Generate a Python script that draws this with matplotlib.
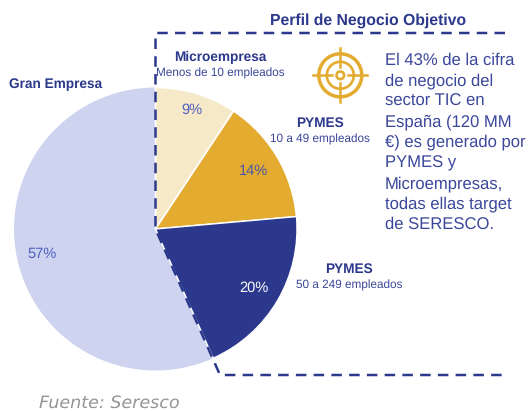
import matplotlib
matplotlib.use("Agg")
import matplotlib.pyplot as plt
from matplotlib.patches import Circle

labels = ["Microempresa", "PYMES 10-49", "PYMES 50-249", "Gran Empresa"]
values = [9.3, 14.3, 19.7, 56.7]
pct_labels = ["9%", "14%", "20%", "57%"]
colors = ["#f6e9c8", "#e3ab2f", "#2b388c", "#ced3ef"]
pct_colors = ["#5060c0", "#4a56a8", "#ffffff", "#5060c0"]
body_lines = [
    "El 43% de la cifra",
    "de negocio del",
    "sector TIC en",
    "España (120 MM",
    "€) es generado por",
    "PYMES y",
    "Microempresas,",
    "todas ellas target",
    "de SERESCO.",
]

NAVY = "#2b388c"
SOFT_NAVY = "#3a479b"
GOLD = "#e3ab2f"
W, H = 529, 411

plt.rcParams["font.family"] = ["Liberation Sans", "DejaVu Sans"]
plt.rcParams["text.hinting"] = "none"

fig = plt.figure(figsize=(W / 100, H / 100), dpi=100)
ax = fig.add_axes([0, 0, 1, 1])


# picture coordinates have y going down
def py(y):
    return H - y


wedges, _ = ax.pie(
    values,
    colors=colors,
    startangle=90,
    counterclock=False,
    center=(155.5, py(229)),
    radius=141.5,
    wedgeprops={"linewidth": 0},
)
# white gap only between the coloured slices
wedges[0].set(edgecolor="white", linewidth=1.2)
wedges[1].set(edgecolor="white", linewidth=1.2)
wedges[2].set(edgecolor="white", linewidth=1.0)
wedges[3].set(zorder=0)

ax.set_xlim(0, W)
ax.set_ylim(0, H)
ax.set_aspect("equal")
ax.axis("off")

# dashed frame
frame_x = [505, 155.5, 155.5, 220, 505]
frame_y = [33, 33, 229, 375, 375]
ax.plot(frame_x, [py(y) for y in frame_y], color=NAVY, lw=1.8, dashes=(4.2, 2.9), zorder=5)

# percentages
pct_pos = [(192, 110), (254, 171), (254, 288), (42, 254)]
for txt, col, (x, y) in zip(pct_labels, pct_colors, pct_pos):
    ax.text(x, py(y), txt, color=col, fontsize=10.5, ha="center", va="center", zorder=6)

# slice labels
ax.text(55.5, py(84), "Gran Empresa", color=NAVY, fontsize=9.8, weight="bold", ha="center", va="center")
ax.text(220, py(57), "Microempresa", color=NAVY, fontsize=9.8, weight="bold", ha="center", va="center")
ax.text(220, py(73), "Menos de 10 empleados", color=SOFT_NAVY, fontsize=8.5, ha="center", va="center")
ax.text(320, py(123), "PYMES", color=NAVY, fontsize=9.8, weight="bold", ha="center", va="center")
ax.text(320, py(139), "10 a 49 empleados", color=SOFT_NAVY, fontsize=8.5, ha="center", va="center")
ax.text(349, py(269), "PYMES", color=NAVY, fontsize=9.8, weight="bold", ha="center", va="center")
ax.text(349.5, py(285), "50 a 249 empleados", color=SOFT_NAVY, fontsize=8.5, ha="center", va="center")

ax.text(368.5, py(21), "Perfil de Negocio Objetivo", color=NAVY, fontsize=11.3, weight="bold", ha="center", va="center")

# text on the right
for i, line in enumerate(body_lines):
    ax.text(385, py(60 + i * 20.6), line, color=SOFT_NAVY, fontsize=12, ha="left", va="center")

# target icon
cx, cy = 340.3, py(75.3)
for r, lw in [(21.5, 2.5), (13.5, 1.9), (3.8, 1.9)]:
    ax.add_patch(Circle((cx, cy), r, fill=False, edgecolor=GOLD, linewidth=lw))
ax.plot([cx - 27, cx - 8], [cy, cy], color=GOLD, lw=1.8)
ax.plot([cx + 8, cx + 27], [cy, cy], color=GOLD, lw=1.8)
ax.plot([cx, cx], [cy + 8, cy + 27], color=GOLD, lw=1.8)
ax.plot([cx, cx], [cy - 27, cy - 8], color=GOLD, lw=1.8)

ax.text(39, py(408), "Fuente: Seresco", color="#959595", fontsize=12.6, style="italic",
        family="DejaVu Sans", ha="left", va="baseline")

fig.savefig("out.png", dpi=100)
